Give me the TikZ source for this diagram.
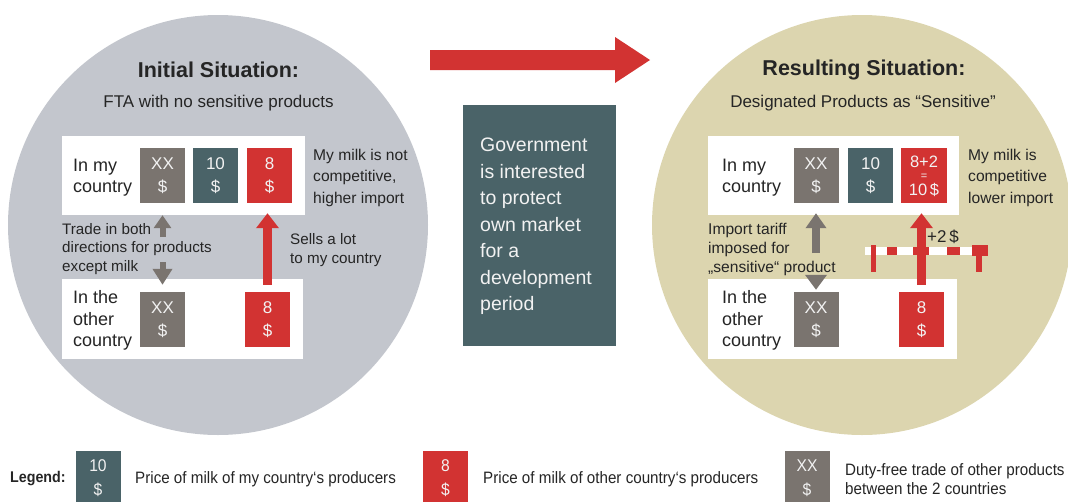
\documentclass[tikz,border=0pt]{standalone}
\usepackage{fontspec}
\setmainfont{Liberation Sans}
\newfontfamily\condf[FakeStretch=0.92]{Liberation Sans}
\usetikzlibrary{arrows.meta}
\definecolor{cgray}{HTML}{C3C6CD}
\definecolor{cbeige}{HTML}{DCD5AF}
\definecolor{cred}{HTML}{D23332}
\definecolor{cteal}{HTML}{4A6368}
\definecolor{cbox}{HTML}{7A746F}
\definecolor{ctxt}{HTML}{252525}
\definecolor{cwt}{HTML}{F2F2F2}
\newcommand{\fs}[2]{\fontsize{#1}{#2}\selectfont}
\begin{document}
\begin{tikzpicture}[x=1pt,y=-1pt,
  wbox/.style={fill=white,inner sep=0},
  pbox/.style={minimum width=45pt,minimum height=55pt,inner sep=0,text=cwt,align=center,font=\fs{17}{23}},
  lgbox/.style={minimum width=45pt,minimum height=54pt,inner sep=0,text=cwt,align=center,font=\condf\fs{17}{24}},
  lbl/.style={text=ctxt,align=left,inner sep=0,anchor=west},
  redarrow/.style={draw=cred,line width=9pt,-{Triangle[width=22pt,length=15pt]}},
  grayarrow/.style={draw=cbox,line width=6pt,-{Triangle[width=17pt,length=13pt]}}
]
\useasboundingbox (0,0) rectangle (1068,501);

% circles
\node[circle,fill=cgray,minimum size=420pt,inner sep=0] (cL) at (218,225) {};
\node[circle,fill=cbeige,minimum size=420pt,inner sep=0] (cR) at (862,225) {};

% middle arrow
\fill[cred] (430,50) -- (615,50) -- (615,37) -- (650,60) -- (615,83) -- (615,70) -- (430,70) -- cycle;

% middle box
\node[fill=cteal,minimum width=153pt,minimum height=241pt,inner sep=0] (gov) at (539.5,225.5) {};
\node[lbl,text=cwt,font=\fs{19.5}{26.5}] (govt) at (480,226.5) {Government\\is interested\\to protect\\own market\\for a\\development\\period};

% ---------- left side ----------
\node[font=\bfseries\fs{21.5}{26},text=ctxt,inner sep=0] (titL) at (218.5,70) {Initial Situation:};
\node[font=\fs{17}{21},text=ctxt,inner sep=0] (subL) at (218.5,103) {FTA with no sensitive products};

\node[wbox,minimum width=243pt,minimum height=79pt] (wL1) at (183.5,175.5) {};
\node[wbox,minimum width=241pt,minimum height=80pt] (wL2) at (182.5,319) {};

\node[lbl,font=\fs{18}{21}] (myL) at (73,178) {In my\\country};
\node[lbl,font=\fs{18}{21.5}] (otL) at (73,320.5) {In the\\other\\country};

\node[pbox,fill=cbox] (xxL1) at (162.5,175.5) {XX\\\$};
\node[pbox,fill=cteal] (tenL) at (215.5,175.5) {10\\\$};
\node[pbox,fill=cred] (r8L1) at (269.5,175.5) {8\\\$};
\node[pbox,fill=cbox] (xxL2) at (162.5,319.5) {XX\\\$};
\node[pbox,fill=cred] (r8L2) at (267.5,319.5) {8\\\$};

\node[lbl,font=\fs{15.6}{21.5}] (notL) at (313,177.5) {My milk is not\\competitive,\\higher import};
\node[lbl,font=\fs{15.2}{18.5}] (trL) at (62,249) {Trade in both\\directions for products\\except milk};
\node[lbl,font=\fs{15.2}{18.5}] (sellL) at (290,250) {Sells a lot\\to my country};

\coordinate (gupL) at (162.5,237);
\coordinate (gdnL) at (162.5,262);
\draw[grayarrow] (gupL) -- (xxL1.south) [shorten >=12pt];
\draw[grayarrow,-{Triangle[width=19pt,length=16pt]}] (gdnL) -- (xxL2.north) [shorten >=7pt];
\draw[redarrow,shorten >=10pt,shorten <=7pt] (r8L2.north) -- (r8L2.north |- r8L1.south);

% ---------- right side ----------
\node[font=\bfseries\fs{21.5}{26},text=ctxt,inner sep=0] (titR) at (864,70) {Resulting Situation:};
\node[font=\fs{17}{21},text=ctxt,inner sep=0] (subR) at (863,103) {Designated Products as “Sensitive”};

\node[wbox,minimum width=251pt,minimum height=79pt] (wR1) at (833.5,175.5) {};
\node[wbox,minimum width=249pt,minimum height=80pt] (wR2) at (832.5,319) {};

\node[lbl,font=\fs{18}{21}] (myR) at (722,178) {In my\\country};
\node[lbl,font=\fs{18}{21.5}] (otR) at (722,320.5) {In the\\other\\country};

\node[pbox,fill=cbox] (xxR1) at (816,175.5) {XX\\\$};
\node[pbox,fill=cteal] (tenR) at (870.5,175.5) {10\\\$};
\node[pbox,fill=cred,minimum width=46pt] (r82) at (924,175.5) {};
\node[text=cwt,font=\fs{16.5}{20},inner sep=0] (r82a) at (924,162) {8+2};
\node[text=cwt,font=\fs{11}{12},inner sep=0] (r82b) at (924,176.5) {=};
\node[text=cwt,font=\fs{16.5}{20},inner sep=0] (r82c) at (924,189.5) {10\,\$};
\node[pbox,fill=cbox] (xxR2) at (816,319.5) {XX\\\$};
\node[pbox,fill=cred] (r8R2) at (921.5,319.5) {8\\\$};

\node[lbl,font=\fs{15.6}{21.5}] (compR) at (968,177.5) {My milk is\\competitive\\lower import};
\node[lbl,font=\fs{15.6}{19}] (tarR) at (708,249) {Import tariff\\imposed for\\„sensitive“ product};

% barrier
\fill[white] (865,247) rectangle (988,255);
\fill[cred] (871,245) rectangle (876,272);
\fill[cred] (887,247) rectangle (897,255);
\fill[cred] (913,247) rectangle (929,255);
\fill[cred] (947,247) rectangle (960,255);
\fill[cred] (972,245) rectangle (988,256);
\fill[cred] (976,256) rectangle (982,272);

\coordinate (gupR) at (816,253);
\coordinate (gdnR) at (816,275);
\draw[grayarrow,line width=8pt,-{Triangle[width=20pt,length=15pt]}] (gupR) -- (xxR1.south) [shorten >=10pt];
\draw[grayarrow,line width=8pt,-{Triangle[width=21pt,length=15pt]}] (gdnR) -- (xxR2.north) [shorten >=2pt];
\draw[redarrow,shorten >=10pt,shorten <=7pt] (r8R2.north) -- (r8R2.north |- r82.south);
\node[lbl,font=\fs{17}{20}] (plus) at (927,237) {+2\,\$};

% ---------- legend ----------
\node[lbl,font=\condf\bfseries\fs{15.5}{18}] (leg) at (10,479) {Legend:};
\node[lgbox,fill=cteal] (lg1) at (98,478) {10\\\$};
\node[lbl,font=\condf\fs{16.5}{19}] (lg1t) at (135,479) {Price of milk of my country‘s producers};
\node[lgbox,fill=cred] (lg2) at (445.5,478) {8\\\$};
\node[lbl,font=\condf\fs{16.5}{19}] (lg2t) at (483,479) {Price of milk of other country‘s producers};
\node[lgbox,fill=cbox] (lg3) at (807,478) {XX\\\$};
\node[lbl,font=\condf\fs{16.5}{19}] (lg3t) at (845,479.5) {Duty-free trade of other products\\between the 2 countries};
\end{tikzpicture}
\end{document}
